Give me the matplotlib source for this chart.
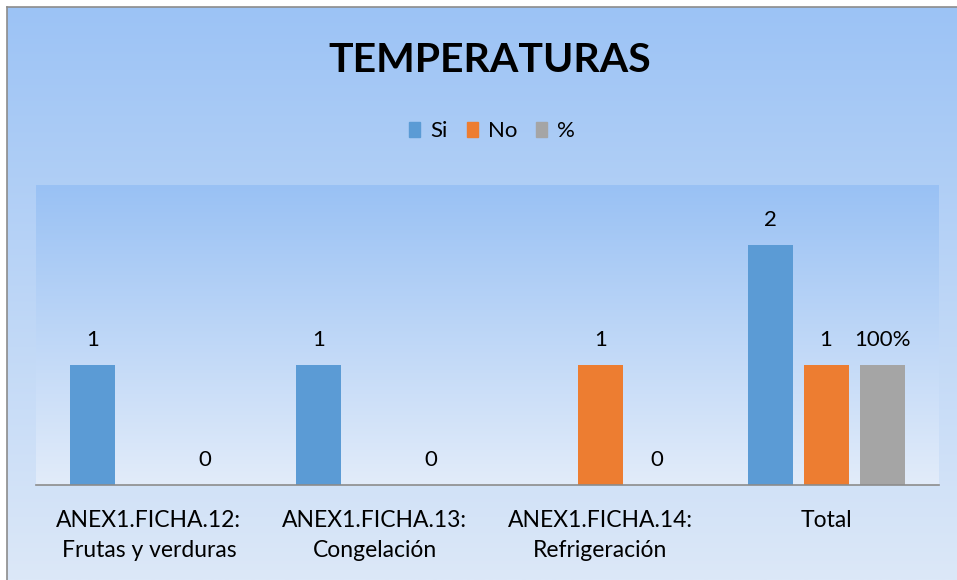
import numpy as np
import matplotlib
matplotlib.use("Agg")
import matplotlib.pyplot as plt
from matplotlib.colors import LinearSegmentedColormap
from matplotlib.patches import Patch

plt.rcParams["font.family"] = ["Lato", "DejaVu Sans"]

# data
categories = ["ANEX1.FICHA.12:\nFrutas y verduras", "ANEX1.FICHA.13:\nCongelación",
              "ANEX1.FICHA.14:\nRefrigeración", "Total"]
si_vals = [1, 1, np.nan, 2]
no_vals = [np.nan, np.nan, 1, 1]
pct_vals = [0, 0, 0, 1]
pct_labels = ["0", "0", "0", "100%"]

series = [("Si", si_vals, "#5B9BD5"), ("No", no_vals, "#ED7D31"), ("%", pct_vals, "#A5A5A5")]

W, H = 957, 580
fig = plt.figure(figsize=(W / 100, H / 100), dpi=100)
fig.patch.set_facecolor("white")

# outer chart background (gradient)
bg = fig.add_axes([7 / W, 0, (W - 7) / W, (H - 7) / H], zorder=-10)
bg_cmap = LinearSegmentedColormap.from_list("bg", ["#9CC3F5", "#DCE8F8"])
bg.imshow(np.linspace(0, 1, 256).reshape(-1, 1), cmap=bg_cmap, aspect="auto",
          extent=[0, 1, 0, 1], origin="upper")
bg.set_xlim(0, 1)
bg.set_ylim(0, 1)
bg.set_xticks([])
bg.set_yticks([])
for s in ["right", "bottom"]:
    bg.spines[s].set_visible(False)
for s in ["top", "left"]:
    bg.spines[s].set_color("#8C8C8C")
    bg.spines[s].set_linewidth(1.2)

# plot area
ax = fig.add_axes([36 / W, (H - 485) / H, 903 / W, 300 / H])
ax.set_facecolor("none")
pa_cmap = LinearSegmentedColormap.from_list("pa", ["#99C1F4", "#E2ECFA"])
ymax = 2.5
ax.imshow(np.linspace(0, 1, 256).reshape(-1, 1), cmap=pa_cmap, aspect="auto",
          extent=[-0.5, len(categories) - 0.5, 0, ymax], origin="upper", zorder=0)

x = np.arange(len(categories))
step = 0.248
width = 0.2
for i, (name, vals, color) in enumerate(series):
    pos = x + (i - 1) * step
    ax.bar(pos, vals, width=width, color=color, zorder=2, label=name)
    for j, v in enumerate(vals):
        if np.isnan(v):
            continue
        txt = pct_labels[j] if name == "%" else f"{v:g}"
        ax.annotate(txt, (pos[j], v), xytext=(0, 10.5), textcoords="offset points",
                    ha="center", va="bottom", fontsize=16, color="#000000")

ax.set_xlim(-0.5, len(categories) - 0.5)
ax.set_ylim(0, ymax)
ax.set_yticks([])
ax.set_xticks(x)
ax.set_xticklabels(categories, fontsize=16.5, linespacing=1.55)
ax.tick_params(axis="x", length=0, pad=18)
for s in ["top", "right", "left"]:
    ax.spines[s].set_visible(False)
ax.spines["bottom"].set_color("#8C8C8C")
ax.spines["bottom"].set_linewidth(1.2)

fig.text(490 / W, 1 - 60 / H, "TEMPERATURAS", ha="center", va="center",
         fontsize=29.5, fontweight="bold", color="#000000")

handles = [Patch(color=c, label=n) for n, _, c in series]
fig.legend(handles=handles, loc="center", bbox_to_anchor=(492 / W, 1 - 131 / H),
           ncol=3, frameon=False, fontsize=16, handlelength=0.5, handleheight=0.64,
           handletextpad=0.45, columnspacing=0.86)

fig.savefig("out.png", dpi=100)
